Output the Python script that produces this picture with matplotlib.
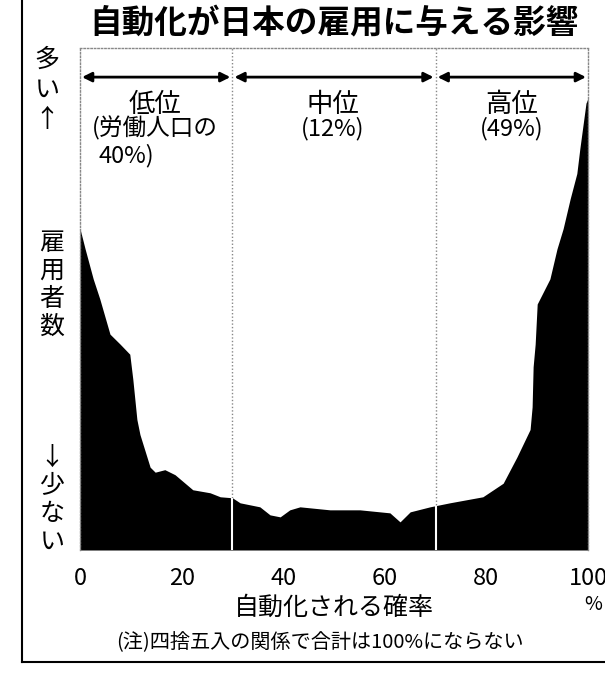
import matplotlib.pyplot as plt
import matplotlib.lines as mlines
import numpy as np

plt.rcParams['font.family'] = ['Noto Sans CJK JP', 'DejaVu Sans']

# distribution of employees by probability of automation
prob = [0, 1, 2.6, 3.9, 5.9, 7.9, 9.8, 10.4, 11.2, 11.8, 13.8, 14.8, 16.7, 18.7,
        22.2, 25.6, 27.6, 30, 31.5, 35.4, 37.4, 39.4, 41.3, 43.3, 49.2, 55.1, 61,
        63, 65, 68.9, 72.8, 79.3, 83.3, 86, 88.6, 89, 89.2, 89.6, 90, 92.5, 93.9,
        95.1, 96.5, 97.8, 98.4, 99.6, 100]
workers = [64, 60, 54, 50, 43, 41, 39, 34, 26, 23, 16.5, 15.5, 16, 15,
           12, 11.4, 10.6, 10.4, 9.4, 8.6, 7, 6.6, 8, 8.6, 8, 8, 7.4,
           5.6, 7.6, 8.6, 9.4, 10.6, 13.3, 18.5, 24, 28.5, 36.5, 41, 49, 54, 60,
           64, 70, 75, 80, 89, 90]

bounds = [30, 70]
groups = [(0, 30), (30, 70), (70, 100)]
xticks = [0, 20, 40, 60, 80, 100]

fig = plt.figure(figsize=(6.05, 6.75), dpi=100)
ax = fig.add_axes([80 / 605, 1 - 550 / 675, 508 / 605, 502 / 675])
ax.set_xlim(0, 100)
ax.set_ylim(0, 100)

# dotted separators in the white area, white cuts through the black area
for b in bounds:
    ax.axvline(b, color='#888888', lw=1, ls=(0, (1, 1.5)), zorder=1)
ax.fill_between(prob, workers, 0, color='black', lw=0, zorder=2)
tops = np.interp(bounds, prob, workers)
ax.vlines(bounds, 0, tops, color='white', lw=1.5, zorder=3)

# range arrows
for a, b in groups:
    ax.annotate('', xy=(b - 0.4, 94.2), xytext=(a + 0.4, 94.2),
                arrowprops=dict(arrowstyle='<|-|>', color='black', lw=2,
                                mutation_scale=14, shrinkA=0, shrinkB=0),
                zorder=4)

ax.text(14.8, 88.8, '低位', ha='center', va='center', fontsize=19)
ax.text(14.8, 84, '(労働人口の', ha='center', va='center', fontsize=17)
ax.text(3.6, 78.6, '40%)', ha='left', va='center', fontsize=17)
ax.text(49.8, 88.8, '中位', ha='center', va='center', fontsize=19)
ax.text(49.8, 84, '(12%)', ha='center', va='center', fontsize=17)
ax.text(85, 88.8, '高位', ha='center', va='center', fontsize=19)
ax.text(85, 84, '(49%)', ha='center', va='center', fontsize=17)

ax.spines['bottom'].set_visible(False)
for s in ['top', 'left', 'right']:
    ax.spines[s].set_color('#888888')
    ax.spines[s].set_linestyle((0, (1, 1.5)))
    ax.spines[s].set_linewidth(1)

ax.set_yticks([])
ax.set_xticks(xticks)
ax.set_xticklabels([str(t) for t in xticks], fontsize=17)
ax.tick_params(axis='x', length=0, pad=12)
ax.set_xlabel('自動化される確率', fontsize=18, labelpad=4)

fig.text(593 / 605, 1 - 604 / 675, '%', ha='center', va='center', fontsize=14)

# vertical y-axis words
fig.text(47 / 605, 1 - 90 / 675, '多\nい\n↑', ha='center', va='center',
         fontsize=18, linespacing=1.2)
fig.text(52 / 605, 1 - 285 / 675, '雇\n用\n者\n数', ha='center', va='center',
         fontsize=18, linespacing=1.1)
fig.text(52 / 605, 1 - 500 / 675, '↓\n少\nな\nい', ha='center', va='center',
         fontsize=18, linespacing=1.1)

fig.text(334 / 605, 1 - 24 / 675, '自動化が日本の雇用に与える影響', ha='center',
         va='center', fontsize=23.5, fontweight='bold')
fig.text(320 / 605, 1 - 643 / 675, '(注)四捨五入の関係で合計は100%にならない',
         ha='center', va='center', fontsize=14.5)

# outer frame (left and bottom)
fig.add_artist(mlines.Line2D([22 / 605, 22 / 605], [1, 1 - 662 / 675],
                             color='black', lw=1.5, transform=fig.transFigure))
fig.add_artist(mlines.Line2D([22 / 605, 1], [1 - 662 / 675, 1 - 662 / 675],
                             color='black', lw=1.5, transform=fig.transFigure))

fig.savefig('out.png', dpi=100)
